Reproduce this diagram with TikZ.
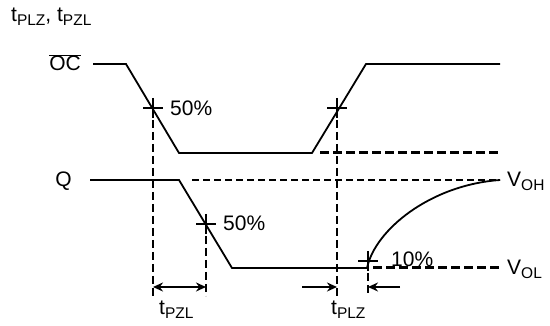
\documentclass[tikz,border=0pt]{standalone}
\usepackage{fontspec}
\setmainfont{Liberation Sans}
\usetikzlibrary{arrows.meta}
\newcommand{\tsub}[2]{#1\raisebox{-4pt}{\fontsize{15.5}{15.5}\selectfont #2}}

\begin{document}
\begin{tikzpicture}[x=1pt,y=-1pt,
    wave/.style={line width=1.8pt},
    refline/.style={line width=2.6pt, dash pattern=on 8pt off 4pt},
    highline/.style={line width=1.6pt, dash pattern=on 7pt off 4pt},
    levelline/.style={line width=3pt, dash pattern=on 9pt off 4pt},
    timearrow/.style={line width=2.4pt, -{Stealth[length=10pt,width=9pt]}},
    lbl/.style={font=\fontsize{21}{24}\selectfont, inner sep=0pt}]
  \useasboundingbox (0,0) rectangle (550,326);

  % points on the waveforms
  \coordinate (oc50a) at (153,108);
  \coordinate (oc50b) at (337,108);
  \coordinate (q50)   at (206,224);
  \coordinate (q10)   at (368,261);
  \coordinate (low)   at (0,296);

  % OC control signal
  \draw[wave] (93,64) -- (126,64) -- (179,153) -- (312,153) -- (366,64) -- (500,64);
  \draw[levelline] (320,153) -- (500,153);

  % Q output
  \draw[wave] (90,180) -- (179,180) -- (232,268) -- (367,268)
    .. controls (375,230) and (430,185) .. (500,180);
  \draw[highline] (192,180) -- (500,180);
  \draw[levelline] (373,268) -- (500,268);

  % crosses and the vertical dashed lines
  \foreach \p in {oc50a, oc50b, q50, q10} {
    \draw[wave] (\p) ++(-10,0) -- ++(20,0) (\p) ++(0,-10) -- ++(0,20);
    \draw[refline] (\p) -- (\p |- low);
  }

  % time arrows
  \draw[timearrow, {Stealth[length=10pt,width=9pt]}-{Stealth[length=10pt,width=9pt]}] (oc50a |- 0,287) -- (q50 |- 0,287);
  \coordinate (plzl) at (302,287);
  \coordinate (plzr) at (400,287);
  \draw[timearrow] (plzl) -- (oc50b |- plzl);
  \draw[timearrow] (plzr) -- (q10 |- plzr);

  % labels
  \node[lbl, anchor=base west] (title) at (11,22) {\tsub{t}{PLZ}, \tsub{t}{PZL}};
  \node[lbl, anchor=base east] (ocname) at (81,71) {$\overline{\mbox{OC}}$};
  \node[lbl, anchor=base east] (qname) at (72,187) {Q};
  \node[lbl, anchor=base west] (p50a) at (170,116) {50\%};
  \node[lbl, anchor=base west] (p50b) at (223,231) {50\%};
  \node[lbl, anchor=base west] (p10) at (391,267) {10\%};
  \node[lbl, anchor=base west] (voh) at (507,187) {\tsub{V}{OH}};
  \node[lbl, anchor=base west] (vol) at (507,275) {\tsub{V}{OL}};
  \node[lbl, anchor=base west] (tpzl) at (159,315) {\tsub{t}{PZL}};
  \node[lbl, anchor=base west] (tplz) at (331,315) {\tsub{t}{PLZ}};
\end{tikzpicture}
\end{document}
